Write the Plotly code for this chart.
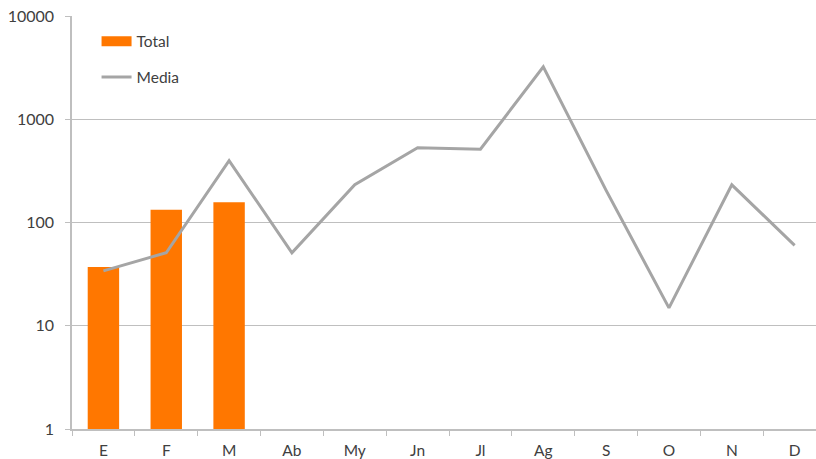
import plotly.graph_objs as go

months = ['E', 'F', 'M', 'Ab', 'My', 'Jn', 'Jl', 'Ag', 'S', 'O', 'N', 'D']
total = [37, 133, 157, None, None, None, None, None, None, None, None, None]
media = [34, 51, 397, 51, 233, 531, 513, 3230, 205, 14.9, 232, 60]
y_ticks = [1, 10, 100, 1000, 10000]

grid_col = '#bfbfbf'
text_col = '#404040'
orange = '#ff7700'

fig = go.Figure()
fig.add_trace(go.Bar(x=months, y=total, name='Total', marker=dict(color=orange, line=dict(width=0)),
                     width=0.5, showlegend=False))
# legend entry for the bars, drawn as a wide block like the original
fig.add_trace(go.Scatter(x=[None], y=[None], name='Total', mode='lines',
                         line=dict(color=orange, width=11), legend='legend', showlegend=True))
fig.add_trace(go.Scatter(x=months, y=media, name='Media', mode='lines',
                         line=dict(color='#a5a5a5', width=3), legend='legend2', showlegend=True))

legend_style = dict(bgcolor='rgba(0,0,0,0)', font=dict(size=15.5, color=text_col),
                    xanchor='left', yanchor='middle', itemwidth=30, visible=True)

fig.update_layout(
    width=816, height=459,
    margin=dict(l=72, r=0, t=16, b=29.5),
    plot_bgcolor='white', paper_bgcolor='white',
    font=dict(family='Lato, sans-serif', size=15.5, color=text_col),
    showlegend=True,
    legend=dict(x=0.033, y=0.938, **legend_style),
    legend2=dict(x=0.033, y=0.851, **legend_style),
    xaxis=dict(range=[-0.5, 11.34], showline=True, linecolor=grid_col, linewidth=1.5,
               ticks='outside', tickson='boundaries', ticklen=5, tickcolor=grid_col,
               showgrid=False, automargin=False, tickfont=dict(size=15.5, color=text_col),
               ticklabelstandoff=7),
    yaxis=dict(type='log', range=[0, 4.001], tickvals=y_ticks, ticktext=[str(v) for v in y_ticks],
               showline=True, linecolor=grid_col, linewidth=1.5, ticks='outside', ticklen=5,
               tickcolor=grid_col, showgrid=True, gridcolor=grid_col, gridwidth=1,
               zeroline=False, automargin=False, tickfont=dict(size=16, color=text_col),
               ticklabelstandoff=8, ticklabeloverflow='allow'),
)

# drop the browser's default body margin so the figure sits at the page corner
fig.write_html("out.html", config={'displayModeBar': False},
               post_script="document.body.style.margin = '0';")
